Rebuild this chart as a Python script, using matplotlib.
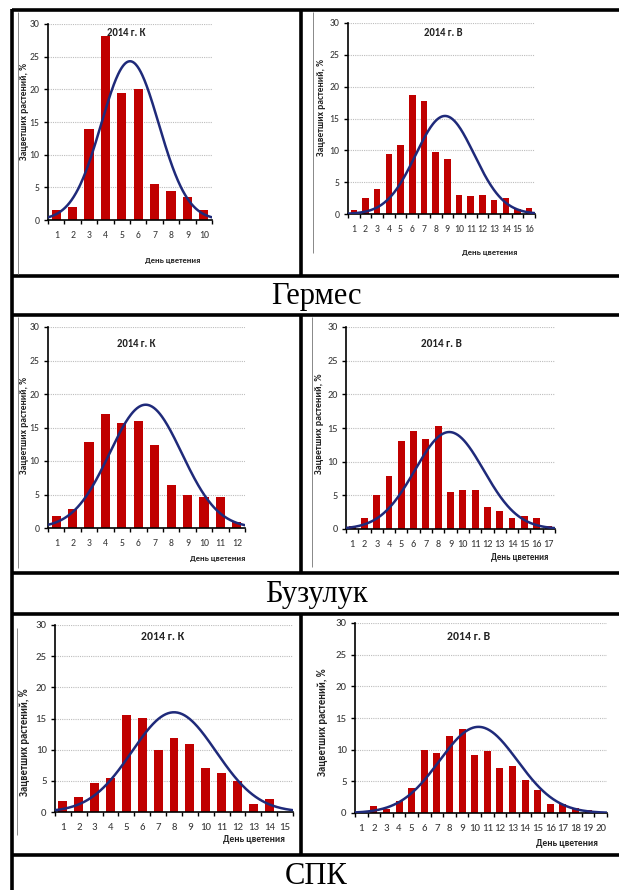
import numpy as np
import matplotlib
matplotlib.use("Agg")
import matplotlib.pyplot as plt
from matplotlib import font_manager
from matplotlib.lines import Line2D

# ---------------- data ----------------
varieties = ["Гермес", "Бузулук", "СПК"]
panel_titles = ["2014 г. К", "2014 г. В"]
y_label = "Зацветших растений, %"
x_label = "День цветения"

hermes_k = [1.5, 2.0, 13.9, 28.2, 19.4, 20.0, 5.5, 4.5, 3.5, 1.5]
hermes_v = [0.6, 2.5, 4.0, 9.5, 10.8, 18.7, 17.8, 9.8, 8.6, 3.0, 2.8, 3.0, 2.2, 2.5, 0.8, 0.9]
buzuluk_k = [1.8, 2.8, 12.8, 17.0, 15.6, 16.0, 12.4, 6.4, 5.0, 4.6, 4.6, 0.9]
buzuluk_v = [0.4, 1.6, 5.0, 7.8, 13.0, 14.5, 13.4, 15.3, 5.5, 5.8, 5.8, 3.2, 2.7, 1.6, 2.0, 1.6, 0.4]
spk_k = [1.7, 2.4, 4.6, 5.5, 15.6, 15.1, 10.0, 11.8, 10.9, 7.1, 6.2, 5.0, 1.3, 2.1, 0.0]
spk_v = [0.0, 1.1, 0.6, 1.9, 4.0, 10.0, 9.5, 12.1, 13.2, 9.2, 9.8, 7.1, 7.5, 5.2, 3.7, 1.4, 1.4, 0.8, 0.5, 0.0]

# normal-curve parameters: (mean day, sd, peak %)
curve_hermes_k = (5.5, 1.75, 24.3)
curve_hermes_v = (8.8, 2.5, 15.4)
curve_buzuluk_k = (6.45, 2.2, 18.4)
curve_buzuluk_v = (8.9, 2.8, 14.4)
curve_spk_k = (8.0, 2.65, 16.0)
curve_spk_v = (10.3, 3.1, 13.6)

y_ticks = [0, 5, 10, 15, 20, 25, 30]

# ---------------- fonts ----------------
avail = {f.name for f in font_manager.fontManager.ttflist}
def pick(*names):
    for n in names:
        if n in avail:
            return n
    return "DejaVu Sans"
SANS = pick("Carlito", "Liberation Sans Narrow", "Open Sans", "Liberation Sans")
SERIF = pick("Liberation Serif", "DejaVu Serif")

W, H = 619, 890
fig = plt.figure(figsize=(W / 100, H / 100), dpi=100)
fig.patch.set_facecolor("white")

def fx(x):
    return x / W
def fy(y):
    return 1 - y / H

BAR = "#C00000"
CURVE = "#1F2A7A"

panels = [
    # values, curve, axes box (left, right, y0, y30), title pos, xlabel pos, ylabel pos, fontscale, title idx
    (hermes_k, curve_hermes_k, (48, 212, 220, 24), (126, 33), (173, 261), (25, 112), 1.0, 0),
    (hermes_v, curve_hermes_v, (348, 535, 214, 23), (443, 32), (490, 253), (321, 108), 1.0, 1),
    (buzuluk_k, curve_buzuluk_k, (48, 245, 528, 327), (136, 343), (218, 558), (25, 426), 1.0, 0),
    (buzuluk_v, curve_buzuluk_v, (346, 555, 529, 327), (441, 343), (520, 558), (320, 424), 1.05, 1),
    (spk_k, curve_spk_k, (55, 293, 812, 625), (163, 637), (254, 840), (25, 742), 1.12, 0),
    (spk_v, curve_spk_v, (355, 607, 813, 623), (469, 637), (567, 843), (323, 722), 1.12, 1),
]

for vals, (mu, sd, peak), (l, r, y0, y30), tpos, xlpos, ylpos, sc, ti in panels:
    ax = fig.add_axes([fx(l), fy(y0), (r - l) / W, (y0 - y30) / H])
    n = len(vals)
    days = np.arange(1, n + 1)
    ax.set_xlim(0.5, n + 0.5)
    ax.set_ylim(0, 30)
    for yv in y_ticks[1:]:
        ax.axhline(yv, color="#BDBDBD", lw=0.8, ls=(0, (1, 1)), zorder=0)
    ax.bar(days, vals, width=0.56, color=BAR, zorder=2)
    xs = np.linspace(0.5, n + 0.5, 300)
    ax.plot(xs, peak * np.exp(-(xs - mu) ** 2 / (2 * sd ** 2)), color=CURVE, lw=1.8, zorder=3)
    for s in ("top", "right"):
        ax.spines[s].set_visible(False)
    for s in ("left", "bottom"):
        ax.spines[s].set_color("black")
        ax.spines[s].set_linewidth(1.2)
    ax.set_yticks(y_ticks)
    ax.set_xticks(days)
    ax.set_xticklabels([str(d) for d in days])
    ax.set_xticks(np.arange(0.5, n + 1.0, 1.0), minor=True)
    ax.tick_params(axis="x", which="major", length=0, pad=8, labelsize=7.0 * sc, labelcolor="#333333")
    ax.tick_params(axis="x", which="minor", length=3, width=1, color="black", direction="out")
    ax.tick_params(axis="y", length=3, width=1, pad=3, labelsize=7.0 * sc, labelcolor="#333333")
    for lab in ax.get_xticklabels() + ax.get_yticklabels():
        lab.set_fontfamily(SANS)
    ax.patch.set_alpha(0)

    fig.text(fx(tpos[0]), fy(tpos[1]), panel_titles[ti], ha="center", va="center",
             fontsize=7.6 * sc, fontweight="bold", family=SANS, color="#222222")
    fig.text(fx(xlpos[0]), fy(xlpos[1]), x_label, ha="center", va="center",
             fontsize=6.1 * sc, fontweight="bold", family=SANS, color="#222222")
    fig.text(fx(ylpos[0]), fy(ylpos[1]), y_label, ha="center", va="center", rotation=90,
             fontsize=6.8 * sc, fontweight="bold", family=SANS, color="#222222")

# ---------------- table lines ----------------
def hline(y, x0=12, x1=619, lw=2.6, color="black"):
    fig.add_artist(Line2D([fx(x0), fx(x1)], [fy(y), fy(y)], lw=lw, color=color, solid_capstyle="butt"))
def vline(x, y0, y1, lw=2.6, color="black"):
    fig.add_artist(Line2D([fx(x), fx(x)], [fy(y0), fy(y1)], lw=lw, color=color, solid_capstyle="butt"))

for yy in (10, 276, 315, 573, 614, 855):
    hline(yy)
vline(12, 9, 890)
vline(301, 10, 276)
vline(301, 315, 573)
vline(301, 614, 855)
# thin borders of embedded pictures
vline(18, 12, 274, lw=0.7, color="#888888")
vline(313, 12, 253, lw=0.7, color="#888888")
vline(18, 317, 568, lw=0.7, color="#888888")
vline(312, 317, 567, lw=0.7, color="#888888")
vline(17, 628, 835, lw=0.7, color="#888888")

# ---------------- variety labels ----------------
for name, base in zip(varieties, (304, 602, 884)):
    fig.text(fx(316), fy(base), name, ha="center", va="baseline", fontsize=22,
             family=SERIF, color="black")

fig.savefig("out.png", dpi=100, facecolor="white")
